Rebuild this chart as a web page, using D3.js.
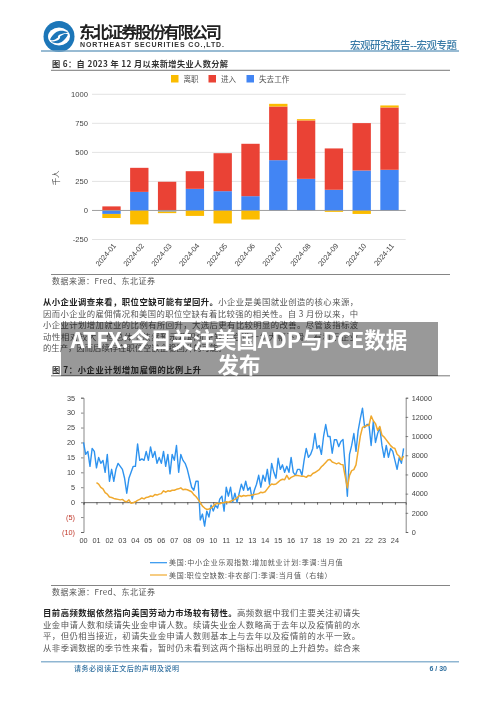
<!DOCTYPE html>
<html>
<head>
<meta charset="utf-8">
<script src="https://cdn.jsdelivr.net/npm/d3@7"></script>
<style>
  html, body { margin: 0; padding: 0; background: #fff; }
  svg { display: block; }
  text { font-family: "Noto Sans CJK SC", sans-serif; }
  .num { font-family: "Liberation Sans", Arial, sans-serif; }
</style>
</head>
<body>
<svg id="page" width="500" height="707"></svg>
<script>
// chart 1 data (thousand people)
const months = ["2024-01","2024-02","2024-03","2024-04","2024-05","2024-06","2024-07","2024-08","2024-09","2024-10","2024-11"];
const quits = [-35,-120,-13,-47,-112,-78,23,11,-12,-30,17];
const entrants = [35,207,247,152,327,451,462,503,356,408,537];
const lostJob = [-30,160,-10,186,166,123,433,272,178,344,350];
const barTicks = [-250,0,250,500,750,1000];
const barLegend = ["离职","进入","失去工作"];

// chart 2 data, two monthly steps, starting 2000-01
const hiringPlans = [
  20,16,17,12,18,17, 11.5,15,13,14,10,16, 7,11,7,11,13,12, 11,8,3,8,10,12,
  12,19.5,14,14.5,14,17, 14,18.5,15,17,13,15, 13,17,12,16,9.5,16, 14,19,10,16,14,13,
  11,8,5,4,7,7, -6,-4,-8,-3,-5,-1, -3,-1,-2,1,2,-3, 5,2,5,0,3,0,
  3,6,4,7,4,5, 1,4,6,9,5,9, 7,11,6,13,10,8, 14.7,11,12.5,10,12,10,
  15,10,9,11,11,9, 14,18,15,16,18,23, 18,19,16,22,26,22, 22,16.4,20.9,20.9,18.6,20.3,
  21,12,2,16,19,23, 17,24,28,31.5,25,26, 26,19,27,20,23,25, 19,15,19,15,18,17,
  14,11,15,13,18
];
const jobOpenings = [
  null,null,null,null,null,null,
  5150,5000,4650,4500,4100,3950, 3650,3600,3500,3450,3400,3350, 3400,3200,3150,3350,3000,3050,
  3150,3300,3400,3550,3450,3600, 3650,3750,3700,3900,3850,3950, 4000,4300,4150,4300,4250,4350, 4350,4450,4500,4600,4400,4450,
  4400,4300,4200,3900,3700,3400, 3050,2700,2500,2350,2400,2500, 2700,2900,3000,2950,3050,3050, 3150,3100,3200,3300,3400,3550,
  3800,3700,3800,3750,3800,3800, 3850,3900,3950,4000,4150,4100, 4200,4500,4800,5000,4950,5000, 5200,5400,5500,5450,5900,5500,
  5700,5800,5900,5900,5850,5800, 5800,5700,5900,5850,6100,6200, 6350,6500,6800,7000,7250,7500, 7550,7300,7200,7100,7200,7050,
  7000,5800,4600,5900,6400,6500, 7000,8500,10000,10900,11000,11100, 11100,12100,11600,11300,10600,11000, 10100,9900,9600,9300,9000,8800,
  8700,8100,7900,7500,7900
];
const yearLabels = ["00","01","02","03","04","05","06","07","08","09","10","11","12","13","14","15","16","17","18","19","20","21","22","23","24"];
const leftTicks = [35,30,25,20,15,10,5,0,-5,-10];
const rightTicks = [0,2000,4000,6000,8000,10000,12000,14000];
const lineLegend = ["美国:中小企业乐观指数:增加就业计划:季调:当月值","美国:职位空缺数:非农部门:季调:当月值（右轴）"];

// page text
const para1 = [
  ["从小企业调查来看，职位空缺可能有望回升。", "小企业是美国就业创造的核心来源，"],
  ["", "因而小企业的雇佣情况和美国的职位空缺有着比较强的相关性。自 3 月份以来，中"],
  ["", "小企业计划增加就业的比例有所回升，大选后更有比较明显的改善。尽管该指标波"],
  ["", "动性相对较大，但总体上依然预示着职位空缺不会进一步大幅下滑，有利于企业"],
  ["", "的生产，因而后续存在职位空缺企稳回升的可能。"]
];
const para2 = [
  ["目前高频数据依然指向美国劳动力市场较有韧性。", "高频数据中我们主要关注初请失"],
  ["", "业金申请人数和续请失业金申请人数。续请失业金人数略高于去年以及疫情前的水"],
  ["", "平，但仍相当接近，初请失业金申请人数则基本上与去年以及疫情前的水平一致。"],
  ["", "从非季调数据的季节性来看，暂时仍未看到这两个指标出明显的上升趋势。综合来"]
];

const root = d3.select("#page");
root.append("defs").append("filter").attr("id", "soft")
  .append("feGaussianBlur").attr("stdDeviation", 0.3);
// the reference page is a soft scan, the banner on top of it is not
const svg = root.append("g").attr("filter", "url(#soft)");
const blue = "#4285f4", red = "#ea4335", yellow = "#fbbc04";

// header
const head = svg.append("g");
const logo = head.append("g").attr("transform", "translate(59,36.5)");
logo.append("circle").attr("r", 15.5).attr("fill", "#1a76b8");
logo.append("ellipse").attr("rx", 11).attr("ry", 9).attr("fill", "#fff");
logo.append("path").attr("d", "M-9,3 C-4,-7 3,-7 9,-4 C4,-3 -2,-2 -1,1 C-4,3 -6,5 -9,3 M9,-2 C4,8 -3,8 -8,5 C-3,5 2,3 1,0 C4,-2 6,-4 9,-2")
  .attr("fill", "#1a76b8");
head.append("text").attr("x", 79).attr("y", 38).attr("font-size", 16.2).attr("font-weight", 700).attr("fill", "#222")
  .attr("textLength", 143).text("东北证券股份有限公司");
head.append("text").attr("class", "num").attr("x", 80).attr("y", 47).attr("font-size", 7).attr("font-weight", 700).attr("fill", "#333")
  .attr("textLength", 144).text("NORTHEAST SECURITIES CO.,LTD.");
head.append("text").attr("x", 350).attr("y", 48.5).attr("font-size", 10.5).attr("font-weight", 500).attr("fill", "#3a7ca8")
  .attr("textLength", 107).text("宏观研究报告--宏观专题");
head.append("line").attr("x1", 41).attr("x2", 459).attr("y1", 51).attr("y2", 51).attr("stroke", "#76a5c4").attr("stroke-width", 1.5);

function figureTitle(label, y, len) {
  svg.append("text").attr("x", 52).attr("y", y).attr("font-size", 8.2).attr("font-weight", 700).attr("fill", "#333")
    .attr("textLength", len).text(label);
  svg.append("line").attr("x1", 51).attr("x2", 450).attr("y1", y + 3.3).attr("y2", y + 3.3).attr("stroke", "#555").attr("stroke-width", 0.8);
}
function sourceNote(y) {
  svg.append("line").attr("x1", 51).attr("x2", 450).attr("y1", y - 9.5).attr("y2", y - 9.5).attr("stroke", "#666").attr("stroke-width", 0.8);
  svg.append("text").attr("x", 52).attr("y", y).attr("font-size", 8).attr("fill", "#555")
    .attr("textLength", 103).text("数据来源：Fred、东北证券");
}
// all lines but a closing short one are justified to the same width
function paragraph(lines, y, width) {
  lines.forEach((l, i) => {
    const t = svg.append("text").attr("x", 43).attr("y", y + i * 11.5).attr("font-size", 8.35).attr("fill", "#555");
    if (l[0]) t.append("tspan").attr("font-weight", 700).attr("fill", "#222").text(l[0]);
    t.append("tspan").text(l[1]);
    if (l[0].length + l[1].length > 30) t.attr("textLength", width);
  });
}

figureTitle("图 6：自 2023 年 12 月以来新增失业人数分解", 67, 176);

// chart 1
const x1 = d3.scaleBand().domain(months).range([97.6, 403.4]).paddingInner(0.34).paddingOuter(0.17);
const y1 = d3.scaleLinear().domain([-250, 1000]).range([239.5, 94.3]);

const bars = svg.append("g");
bars.selectAll("line.grid").data(barTicks).join("line").attr("class", "grid")
  .attr("x1", 92).attr("x2", 405.7).attr("y1", d => y1(d)).attr("y2", d => y1(d))
  .attr("stroke", "#e0e0e0").attr("stroke-width", 0.9);

const barAxis = d3.axisLeft(y1).tickValues(barTicks).tickSize(0).tickPadding(4).tickFormat(d => d);
const barAxisG = bars.append("g").attr("transform", "translate(92,0)").call(barAxis);
barAxisG.select(".domain").remove();
barAxisG.selectAll("text").attr("class", "num").attr("font-size", 7.6).attr("fill", "#444");

// stack from zero outward, on each side: lost job, entrants, quits
months.forEach((m, i) => {
  let pos = 0, neg = 0;
  [[lostJob, blue], [entrants, red], [quits, yellow]].forEach(([series, color]) => {
    const v = series[i];
    const from = v >= 0 ? pos : neg;
    const to = from + v;
    if (v >= 0) pos = to; else neg = to;
    bars.append("rect").attr("x", x1(m)).attr("width", x1.bandwidth())
      .attr("y", y1(Math.max(from, to))).attr("height", Math.abs(y1(from) - y1(to))).attr("fill", color);
  });
});
bars.append("line").attr("x1", 92).attr("x2", 405.7).attr("y1", y1(0)).attr("y2", y1(0)).attr("stroke", "#999").attr("stroke-width", 0.9);

bars.selectAll("text.month").data(months).join("text").attr("class", "month num")
  .attr("font-size", 7.4).attr("fill", "#444").attr("text-anchor", "end")
  .attr("transform", d => `translate(${x1(d) + x1.bandwidth() / 2 + 5},246) rotate(-50)`).text(d => d);

svg.append("text").attr("font-size", 7.6).attr("fill", "#444").attr("text-anchor", "middle")
  .attr("transform", "translate(59,178) rotate(-90)").text("千人");

[[172, yellow], [209.5, red], [247.5, blue]].forEach(([lx, color], i) => {
  svg.append("rect").attr("x", lx - 1).attr("y", 75).attr("width", 7.5).attr("height", 7.5).attr("fill", color);
  svg.append("text").attr("x", lx + 11.5).attr("y", 82).attr("font-size", 7.6).attr("fill", "#555").text(barLegend[i]);
});

sourceNote(284);
paragraph(para1, 305, 315);

figureTitle("图 7：小企业计划增加雇佣的比例上升", 372.5, 149);

// chart 2
const t0 = 2000;
const dateAt = i => t0 + i / 6;
const x2 = d3.scaleLinear().domain([2000, 2024.83]).range([83.5, 405.7]);
const yL = d3.scaleLinear().domain([-10, 35]).range([532, 397.7]);
const yR = d3.scaleLinear().domain([0, 14000]).range([532, 397.7]);

const lines = svg.append("g");
const leftAxis = d3.axisLeft(yL).tickValues(leftTicks).tickSize(2.5).tickPadding(6)
  .tickFormat(d => d < 0 ? `(${-d})` : d);
const leftG = lines.append("g").attr("transform", "translate(83.5,0)").call(leftAxis);
leftG.selectAll("text").attr("class", "num").attr("font-size", 7.3).attr("fill", d => d < 0 ? "#c0392b" : "#444");
leftG.selectAll("line,path").attr("stroke", "#555").attr("stroke-width", 0.7);

const rightAxis = d3.axisRight(yR).tickValues(rightTicks).tickSize(2.5).tickPadding(3.5).tickFormat(d => d);
const rightG = lines.append("g").attr("transform", "translate(405.7,0)").call(rightAxis);
rightG.selectAll("text").attr("class", "num").attr("font-size", 7.3).attr("fill", "#444");
rightG.selectAll("line,path").attr("stroke", "#555").attr("stroke-width", 0.7);

// x axis sits on the zero line, labels are at the bottom of the plot
const years = yearLabels.map((d, i) => 2000 + i);
const bottomAxis = d3.axisBottom(x2).tickValues(years).tickSize(2.5).tickFormat("");
const bottomG = lines.append("g").attr("transform", `translate(0,${yL(0)})`).call(bottomAxis);
bottomG.selectAll("line,path").attr("stroke", "#444").attr("stroke-width", 0.8);
lines.selectAll("text.year").data(yearLabels).join("text").attr("class", "year num")
  .attr("x", (d, i) => x2(years[i])).attr("y", 543).attr("text-anchor", "middle")
  .attr("font-size", 7.3).attr("fill", "#444").text(d => d);

const lineGen = d3.line().defined(d => d[1] != null).x(d => x2(d[0])).y(d => d[1]);
lines.append("path").attr("fill", "none").attr("stroke", "#2f93ef").attr("stroke-width", 1.4).attr("stroke-linejoin", "round")
  .attr("d", lineGen(hiringPlans.map((v, i) => [dateAt(i), yL(v)])));
lines.append("path").attr("fill", "none").attr("stroke", "#f0a92e").attr("stroke-width", 1.5).attr("stroke-linejoin", "round")
  .attr("d", lineGen(jobOpenings.map((v, i) => [dateAt(i), v == null ? null : yR(v)])));

[["#2f93ef", 562.7, 173.5], ["#f0a92e", 575, 162.5]].forEach(([color, ly, len], i) => {
  svg.append("line").attr("x1", 150).attr("x2", 167).attr("y1", ly).attr("y2", ly).attr("stroke", color).attr("stroke-width", 1.2);
  svg.append("text").attr("x", 169).attr("y", ly + 2.7).attr("font-size", 7).attr("fill", "#555")
    .attr("textLength", len).text(lineLegend[i]);
});

sourceNote(595);
paragraph(para2, 616, 317);

// footer
svg.append("line").attr("x1", 41).attr("x2", 459).attr("y1", 661.7).attr("y2", 661.7).attr("stroke", "#8fb6d2").attr("stroke-width", 1.4);
svg.append("text").attr("x", 74).attr("y", 671).attr("font-size", 7).attr("font-weight", 500).attr("fill", "#2f6f9f")
  .attr("textLength", 105).text("请务必阅读正文后的声明及说明");
svg.append("text").attr("class", "num").attr("x", 447).attr("y", 671).attr("text-anchor", "end").attr("font-size", 7).attr("font-weight", 700).attr("fill", "#2f6f9f").text("6 / 30");

// headline banner
root.append("rect").attr("x", 61).attr("y", 322).attr("width", 377).attr("height", 54).attr("fill", "#000").attr("fill-opacity", 0.4);
[["ATFX:今日关注美国ADP与PCE数据", 347.5], ["发布", 372.5]].forEach(([s, y]) => {
  root.append("text").attr("x", 239).attr("y", y).attr("text-anchor", "middle")
    .attr("font-size", 21.5).attr("font-weight", 700).attr("fill", "#fff").text(s);
});
</script>
</body>
</html>
